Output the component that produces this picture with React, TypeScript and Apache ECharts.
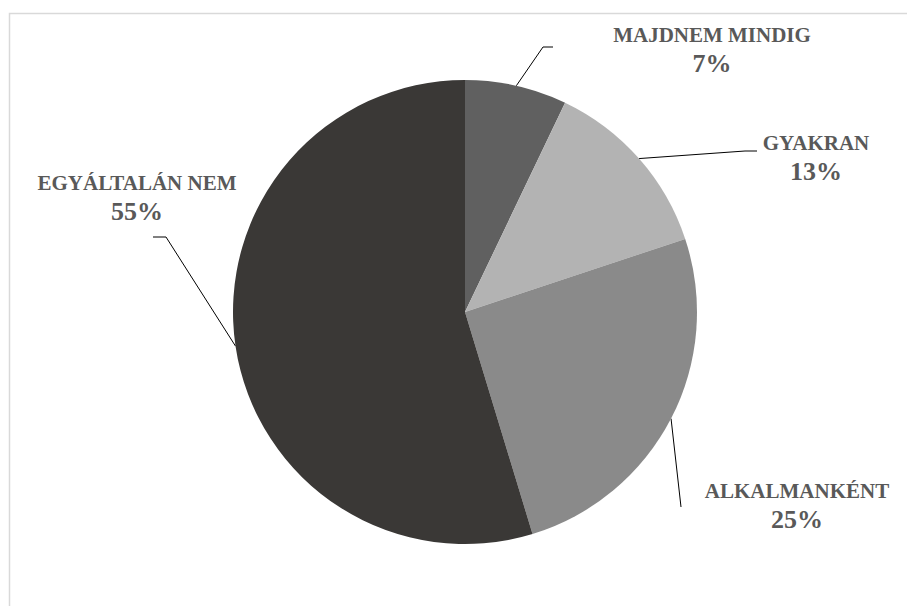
import React, { useEffect, useRef } from "react";
import * as echarts from "echarts";

const categories = ["MAJDNEM MINDIG", "GYAKRAN", "ALKALMANKÉNT", "EGYÁLTALÁN NEM"];
const values = [7.1, 12.8, 25.4, 54.7];
const colors = ["#606060", "#b3b3b3", "#8a8a8a", "#3a3836"];

// label layout (pixel positions of label centre, elbow and end of leader line)
const labelCenters = [
  [712, 50],
  [816, 158],
  [797, 506],
  [137, 198],
];
const elbows = [
  [543, 47],
  [745, 151],
  [681, 507],
  [166, 237],
];
const ends = [
  [553, 47],
  [757, 151],
  [681, 507],
  [153, 237],
];

const CENTER = [465, 312];
const RADIUS = 232;
const FONT = "Times New Roman";

export default function App() {
  const ref = useRef<HTMLDivElement>(null);
  useEffect(() => {
    document.body.style.margin = "0";
    const chart = echarts.init(ref.current!, null, { renderer: "svg" });
    const total = values.reduce((a, b) => a + b, 0);
    const fallbackAnchor = (i: number) => {
      let cum = 0;
      for (let k = 0; k < i; k++) cum += values[k];
      const mid = ((cum + values[i] / 2) / total) * Math.PI * 2;
      return [CENTER[0] + RADIUS * Math.sin(mid), CENTER[1] - RADIUS * Math.cos(mid)];
    };
    chart.setOption({
      animation: false,
      backgroundColor: "#ffffff",
      textStyle: { fontFamily: FONT },
      graphic: [
        {
          type: "rect",
          shape: { x: 9.5, y: 13.5, width: 940, height: 640 },
          style: { fill: "none", stroke: "#d9d9d9", lineWidth: 1.5 },
          silent: true,
        },
      ],
      series: [
        {
          type: "pie",
          center: CENTER,
          radius: RADIUS,
          startAngle: 90,
          clockwise: true,
          avoidLabelOverlap: false,
          data: categories.map((c, i) => ({
            name: c,
            value: values[i],
            itemStyle: { color: colors[i] },
          })),
          itemStyle: { borderWidth: 0 },
          emphasis: { disabled: true },
          label: {
            show: true,
            position: "outside",
            fontFamily: FONT,
            fontWeight: "bold",
            color: "#595959",
            formatter: (p: any) => `{n|${p.name}}\n{p|${Math.round(p.percent)}%}`,
            align: "center",
            rich: {
              n: {
                fontFamily: FONT,
                fontWeight: "bold",
                fontSize: 21,
                lineHeight: 27,
                color: "#595959",
                align: "center",
              },
              p: {
                fontFamily: FONT,
                fontWeight: "bold",
                fontSize: 26,
                lineHeight: 30,
                color: "#595959",
                align: "center",
              },
            },
          },
          labelLine: {
            show: true,
            length: 20,
            length2: 10,
            lineStyle: { color: "#000000", width: 1 },
          },
          labelLayout: (params: any) => {
            const i = params.dataIndex;
            const anchor =
              params.labelLinePoints && params.labelLinePoints[0]
                ? params.labelLinePoints[0]
                : fallbackAnchor(i);
            return {
              x: labelCenters[i][0],
              y: labelCenters[i][1],
              align: "center",
              verticalAlign: "middle",
              labelLinePoints: [anchor, elbows[i], ends[i]],
            };
          },
        },
      ],
    });
    return () => chart.dispose();
  }, []);
  return <div ref={ref} style={{ width: 907, height: 606 }} />;
}
